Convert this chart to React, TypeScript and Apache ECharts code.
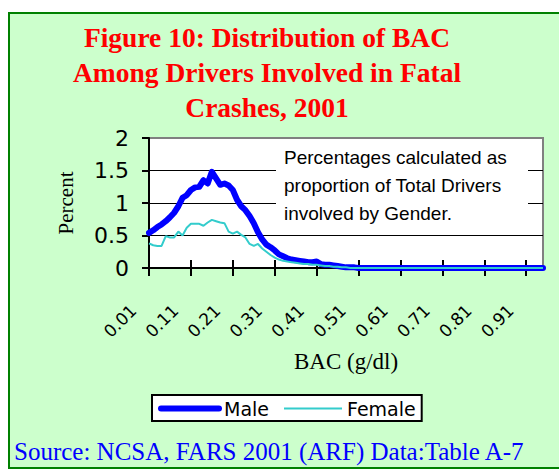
import React, { useEffect, useRef } from "react";
import * as echarts from "echarts";

const bacLevels: string[] = Array.from({ length: 95 }, (_, i) => ((i + 1) / 100).toFixed(2));

const maleValues: number[] = [
  0.54, 0.58, 0.63, 0.67, 0.72, 0.78, 0.85, 0.95, 1.08, 1.12,
  1.2, 1.24, 1.25, 1.35, 1.3, 1.48, 1.38, 1.28, 1.3, 1.27,
  1.2, 1.05, 0.95, 0.89, 0.8, 0.69, 0.55, 0.44, 0.36, 0.32,
  0.27, 0.21, 0.18, 0.15, 0.13, 0.12, 0.11, 0.1, 0.09, 0.09,
  0.1, 0.06, 0.05, 0.05, 0.04, 0.03, 0.02, 0.01, 0.01, 0.01,
  0, 0, 0, 0, 0, 0, 0, 0, 0, 0,
  0, 0, 0, 0, 0, 0, 0, 0, 0, 0,
  0, 0, 0, 0, 0, 0, 0, 0, 0, 0,
  0, 0, 0, 0, 0, 0, 0, 0, 0, 0,
  0, 0, 0, 0, 0,
];

const femaleValues: number[] = [
  0.38, 0.35, 0.34, 0.34, 0.49, 0.47, 0.47, 0.56, 0.5, 0.62,
  0.68, 0.68, 0.68, 0.65, 0.7, 0.74, 0.72, 0.7, 0.69, 0.56,
  0.53, 0.56, 0.51, 0.47, 0.37, 0.34, 0.37, 0.3, 0.25, 0.2,
  0.16, 0.13, 0.11, 0.1, 0.09, 0.08, 0.07, 0.06, 0.06, 0.05,
  0.05, 0.04, 0.03, 0.03, 0.02, 0.02, 0.01, 0.01, 0, 0,
  0, 0, 0, 0, 0, 0, 0, 0, 0, 0,
  0, 0, 0, 0, 0, 0, 0, 0, 0, 0,
  0, 0, 0, 0, 0, 0, 0, 0, 0, 0,
  0, 0, 0, 0, 0, 0, 0, 0, 0, 0,
  0, 0, 0, 0, 0,
];

const titleLines = ["Figure 10: Distribution of BAC", "Among Drivers Involved in Fatal", "Crashes, 2001"];
const noteLines = ["Percentages calculated as", "proportion of Total Drivers", "involved by Gender."];
const sourceText = "Source: NCSA, FARS 2001 (ARF) Data:Table A-7";

export default function App() {
  const ref = useRef<HTMLDivElement>(null);
  useEffect(() => {
    document.body.style.margin = "0";
    if (!ref.current) return;
    const chart = echarts.init(ref.current, null, { renderer: "svg" });
    const sans = "'Liberation Sans', Arial, sans-serif";
    const wide = "'DejaVu Sans', Verdana, sans-serif";
    const serif = "'Liberation Serif', 'Times New Roman', serif";
    chart.setOption({
      animation: false,
      backgroundColor: "#ffffff",
      graphic: [
        {
          type: "rect",
          z: -10,
          shape: { x: 9, y: 13, width: 560, height: 455 },
          style: { fill: "#CCFFCC", stroke: "#008000", lineWidth: 2 },
          silent: true,
        },
        {
          type: "text",
          x: 267,
          y: 20,
          style: {
            text: titleLines.join("\n"),
            align: "center",
            verticalAlign: "top",
            fill: "#FF0000",
            font: `bold 27.5px ${serif}`,
            lineHeight: 35,
          },
        },
        {
          type: "rect",
          z: 5,
          shape: { x: 276, y: 141, width: 252, height: 91 },
          style: { fill: "#ffffff" },
          silent: true,
        },
        {
          type: "text",
          z: 6,
          x: 284,
          y: 143,
          style: {
            text: noteLines.join("\n"),
            align: "left",
            verticalAlign: "top",
            fill: "#000000",
            font: `19px ${sans}`,
            lineHeight: 28,
          },
        },
        {
          type: "text",
          x: 14,
          y: 439,
          style: {
            text: sourceText,
            align: "left",
            verticalAlign: "top",
            fill: "#0000FF",
            font: `25px ${serif}`,
          },
        },
      ],
      grid: {
        left: 149,
        top: 138,
        width: 394,
        height: 130,
        show: true,
        backgroundColor: "#ffffff",
        borderColor: "#808080",
        borderWidth: 2,
      },
      legend: {
        left: 152,
        top: 395,
        orient: "horizontal",
        padding: [4, 6, 3, 6],
        itemGap: 14,
        itemWidth: 58,
        itemHeight: 14,
        borderColor: "#000000",
        borderWidth: 2,
        backgroundColor: "#ffffff",
        itemStyle: { opacity: 0, borderWidth: 0 },
        textStyle: { fontFamily: wide, fontSize: 19, color: "#000" },
        data: [
          { name: "Male", lineStyle: { width: 6, color: "#0000FF", cap: "round" } },
          { name: "Female", lineStyle: { width: 2, color: "#33CCCC" } },
        ],
      },
      xAxis: [
        {
          type: "category",
          data: bacLevels,
          boundaryGap: false,
          name: "BAC (g/dl)",
          nameLocation: "middle",
          nameGap: 82,
          nameTextStyle: { fontFamily: serif, fontSize: 23, color: "#000" },
          axisLine: { show: true, lineStyle: { color: "#000", width: 2 } },
          axisTick: { show: true, interval: 9, length: 8, lineStyle: { color: "#000", width: 2 } },
          axisLabel: {
            interval: 9,
            rotate: 45,
            margin: 24,
            padding: [0, 22, 0, 0],
            fontFamily: wide,
            fontSize: 17,
            color: "#000",
          },
          splitLine: { show: false },
        },
        {
          type: "category",
          data: bacLevels,
          boundaryGap: false,
          position: "bottom",
          axisLine: { show: false },
          axisTick: { show: true, inside: true, interval: 9, length: 8, lineStyle: { color: "#000", width: 2 } },
          axisLabel: { show: false },
          splitLine: { show: false },
        },
      ],
      yAxis: {
        type: "value",
        min: 0,
        max: 2,
        interval: 0.5,
        name: "Percent",
        nameLocation: "middle",
        nameGap: 73,
        nameRotate: 90,
        nameTextStyle: { fontFamily: serif, fontSize: 21, color: "#000" },
        axisLine: { show: true, lineStyle: { color: "#000", width: 2 } },
        axisTick: { show: true, length: 7, lineStyle: { color: "#000", width: 2 } },
        axisLabel: {
          margin: 20,
          fontFamily: wide,
          fontSize: 22,
          color: "#000",
          formatter: (v: number) => String(v),
        },
        splitLine: {
          show: true,
          lineStyle: { color: ["#000", "#000", "#000", "#000", "#808080"], width: 1 },
        },
      },
      series: [
        {
          name: "Male",
          type: "line",
          data: maleValues,
          symbol: "none",
          smooth: false,
          lineStyle: { color: "#0000FF", width: 6, cap: "round", join: "round" },
          itemStyle: { color: "#0000FF" },
          z: 3,
        },
        {
          name: "Female",
          type: "line",
          data: femaleValues,
          symbol: "none",
          smooth: false,
          lineStyle: { color: "#33CCCC", width: 2 },
          itemStyle: { color: "#33CCCC" },
          z: 4,
        },
      ],
    });
    return () => chart.dispose();
  }, []);
  return <div ref={ref} style={{ width: 559, height: 470 }} />;
}
